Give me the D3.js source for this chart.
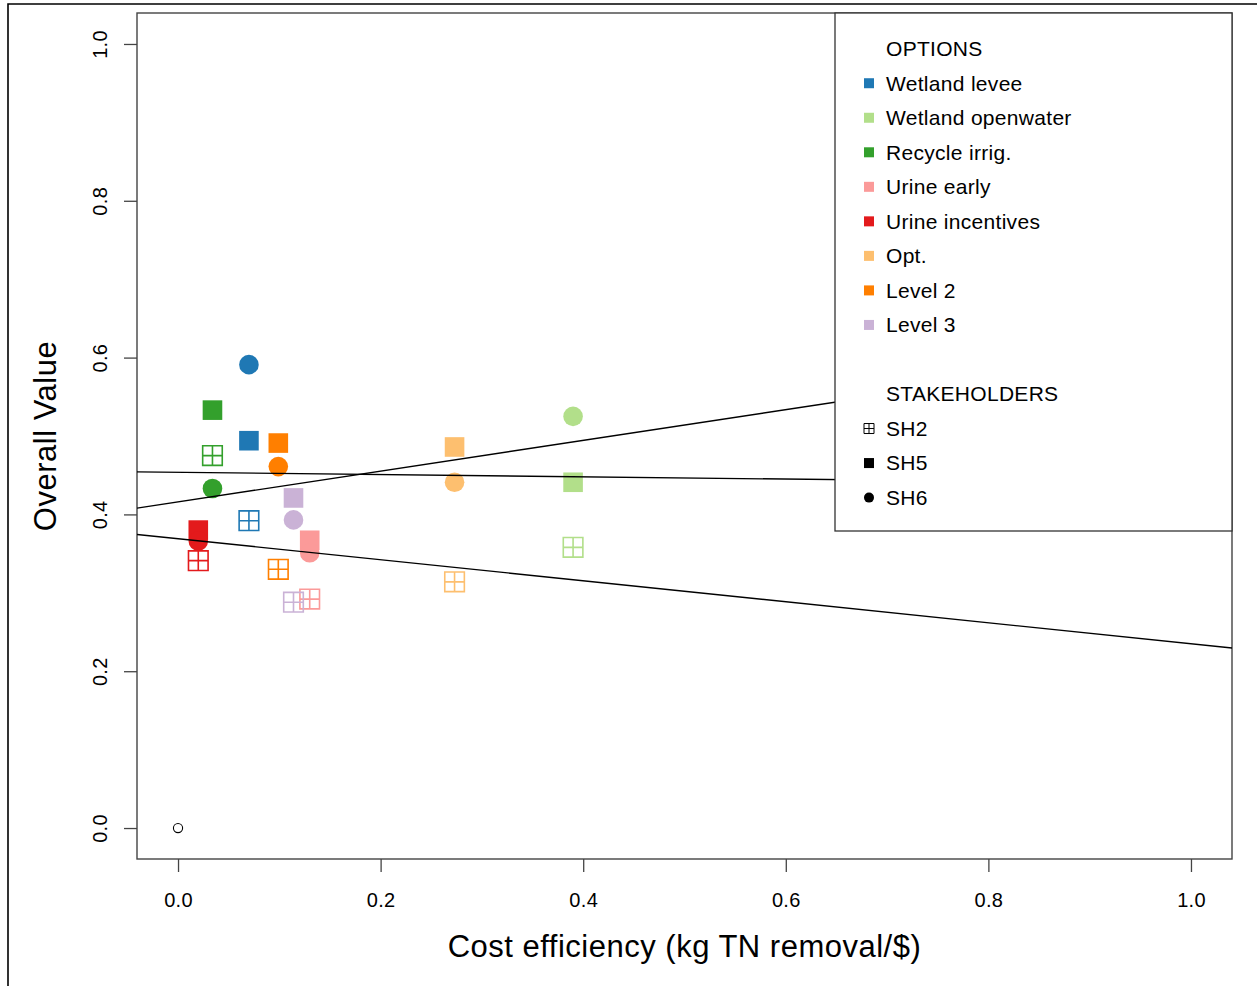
<!DOCTYPE html>
<html>
<head>
<meta charset="utf-8">
<script src="https://cdn.jsdelivr.net/npm/d3@7"></script>
<style>
  body { margin: 0; background: #fff; }
  svg { display: block; font-family: "Liberation Sans", Arial, sans-serif; }
</style>
</head>
<body>
<svg id="myChart" width="1257" height="986"></svg>
<script>
// options (one colour each) and their cost efficiency
const options = ["Wetland levee", "Wetland openwater", "Recycle irrig.", "Urine early",
                 "Urine incentives", "Opt.", "Level 2", "Level 3"];
const optionColors = ["#1f78b4", "#b2df8a", "#33a02c", "#fb9a99",
                      "#e31a1c", "#fdbf6f", "#ff7f00", "#cab2d6"];
const costEfficiency = [0.070, 0.390, 0.034, 0.130, 0.020, 0.273, 0.099, 0.114];

// overall value per stakeholder
const stakeholders = ["SH2", "SH5", "SH6"];
const valueSH2 = [0.392, 0.358, 0.475, 0.292, 0.341, 0.314, 0.330, 0.288];
const valueSH5 = [0.494, 0.441, 0.533, 0.367, 0.380, 0.486, 0.491, 0.421];
const valueSH6 = [0.591, 0.525, 0.433, 0.351, 0.366, 0.441, 0.461, 0.393];

// fitted lines (intercept, slope)
const lineIntercepts = [0.416, 0.4537, 0.369];
const lineSlopes = [0.196, -0.0144, -0.134];

const xTicks = [0, 0.2, 0.4, 0.6, 0.8, 1.0];
const yTicks = [0, 0.2, 0.4, 0.6, 0.8, 1.0];

class ScatterChart {

    constructor() {
        this.render();
    }

    render() {
        let svg = d3.select("#myChart");
        let left = 137, right = 1232, top = 13, bottom = 859;

        let x = d3.scaleLinear().domain([-0.0405, 1.0405]).range([left, right]);
        let y = d3.scaleLinear().domain([-0.0395, 1.0395]).range([bottom, top]);

        // outer frame
        svg.append("path")
            .attr("d", "M8,1000 L8,4 L1300,4")
            .attr("fill", "none")
            .attr("stroke", "#000")
            .attr("stroke-width", 1.6);

        svg.append("clipPath").attr("id", "plotClip")
            .append("rect")
            .attr("x", left).attr("y", top)
            .attr("width", right - left).attr("height", bottom - top);

        // axes
        let xAxis = svg.append("g")
            .attr("transform", "translate(0," + bottom + ")")
            .call(d3.axisBottom(x).tickValues(xTicks).tickFormat(d3.format(".1f")).tickSize(13).tickSizeOuter(0));
        xAxis.select(".domain").remove();
        xAxis.selectAll("line").attr("stroke", "#444").attr("stroke-width", 1.3);
        xAxis.selectAll("text")
            .attr("y", 48).attr("dy", null)
            .attr("fill", "#000")
            .style("font-size", "20px")
            .style("letter-spacing", "0.3px")
            .style("font-family", "'Liberation Sans', Arial, sans-serif");

        let yAxis = svg.append("g")
            .attr("transform", "translate(" + left + ",0)")
            .call(d3.axisLeft(y).tickValues(yTicks).tickFormat(d3.format(".1f")).tickSize(13).tickSizeOuter(0));
        yAxis.select(".domain").remove();
        yAxis.selectAll("line").attr("stroke", "#444").attr("stroke-width", 1.3);
        yAxis.selectAll("text")
            .attr("x", null).attr("dy", null)
            .attr("transform", "translate(-29.7,0) rotate(-90)")
            .attr("text-anchor", "middle")
            .attr("fill", "#000")
            .style("font-size", "20px")
            .style("letter-spacing", "0.3px")
            .style("font-family", "'Liberation Sans', Arial, sans-serif");

        // plot box
        svg.append("rect")
            .attr("x", left).attr("y", top)
            .attr("width", right - left).attr("height", bottom - top)
            .attr("fill", "none")
            .attr("stroke", "#444")
            .attr("stroke-width", 1.4);

        // axis titles
        svg.append("text")
            .attr("x", (left + right) / 2).attr("y", 957)
            .attr("text-anchor", "middle")
            .style("font-size", "31px")
            .style("letter-spacing", "0.5px")
            .text("Cost efficiency (kg TN removal/$)");

        svg.append("text")
            .attr("transform", "translate(55.5," + (top + bottom) / 2 + ") rotate(-90)")
            .attr("text-anchor", "middle")
            .style("font-size", "31px")
            .style("letter-spacing", "0.5px")
            .text("Overall Value");

        let plot = svg.append("g");

        // origin marker
        plot.append("circle")
            .attr("cx", x(0)).attr("cy", y(0)).attr("r", 4.6)
            .attr("fill", "none").attr("stroke", "#000").attr("stroke-width", 1.1);

        let rows = options.map(function(name, i) {
            return {name: name, color: optionColors[i], x: costEfficiency[i],
                    sh2: valueSH2[i], sh5: valueSH5[i], sh6: valueSH6[i]};
        });

        // SH2: open square with cross
        let s = 9.8;
        plot.selectAll(".sh2")
            .data(rows)
            .enter().append("path")
            .attr("class", "sh2")
            .attr("d", function(d) {
                let cx = x(d.x), cy = y(d.sh2);
                return "M" + (cx - s) + "," + (cy - s) + "h" + (2 * s) + "v" + (2 * s) + "h" + (-2 * s) + "Z" +
                       "M" + cx + "," + (cy - s) + "v" + (2 * s) +
                       "M" + (cx - s) + "," + cy + "h" + (2 * s);
            })
            .attr("fill", "none")
            .attr("stroke", function(d) { return d.color; })
            .attr("stroke-width", 1.6);

        // SH5: filled square
        plot.selectAll(".sh5")
            .data(rows)
            .enter().append("rect")
            .attr("class", "sh5")
            .attr("x", function(d) { return x(d.x) - 9.8; })
            .attr("y", function(d) { return y(d.sh5) - 9.8; })
            .attr("width", 19.6).attr("height", 19.6)
            .attr("fill", function(d) { return d.color; });

        // SH6: filled circle
        plot.selectAll(".sh6")
            .data(rows)
            .enter().append("circle")
            .attr("class", "sh6")
            .attr("cx", function(d) { return x(d.x); })
            .attr("cy", function(d) { return y(d.sh6); })
            .attr("r", 9.8)
            .attr("fill", function(d) { return d.color; });

        // fitted lines
        let xd = x.domain();
        svg.append("g")
            .attr("clip-path", "url(#plotClip)")
            .selectAll("line")
            .data(lineIntercepts)
            .enter().append("line")
            .attr("x1", x(xd[0]))
            .attr("x2", x(xd[1]))
            .attr("y1", function(a, i) { return y(a + lineSlopes[i] * xd[0]); })
            .attr("y2", function(a, i) { return y(a + lineSlopes[i] * xd[1]); })
            .attr("stroke", "#000")
            .attr("stroke-width", 1.4);

        // legend
        let lg = svg.append("g");
        lg.append("rect")
            .attr("x", 835).attr("y", top)
            .attr("width", right - 835).attr("height", 531 - top)
            .attr("fill", "#fff")
            .attr("stroke", "#333")
            .attr("stroke-width", 1.3);

        let rowH = 34.53, base = 56, textX = 886, symX = 869;
        let label = function(i, t) {
            lg.append("text")
                .attr("x", textX).attr("y", base + rowH * i)
                .style("font-size", "21px")
                .style("letter-spacing", "0.3px")
                .text(t);
        };
        label(0, "OPTIONS");
        options.forEach(function(name, i) {
            label(i + 1, name);
            lg.append("rect")
                .attr("x", symX - 5).attr("y", base + rowH * (i + 1) - 7.3 - 5)
                .attr("width", 10).attr("height", 10)
                .attr("fill", optionColors[i]);
        });
        label(10, "STAKEHOLDERS");
        stakeholders.forEach(function(name, i) {
            label(11 + i, name);
        });
        let cy2 = base + rowH * 11 - 7.3, cy5 = base + rowH * 12 - 7.3, cy6 = base + rowH * 13 - 7.3;
        lg.append("path")
            .attr("d", "M" + (symX - 5) + "," + (cy2 - 5) + "h10v10h-10Z M" + symX + "," + (cy2 - 5) + "v10 M" + (symX - 5) + "," + cy2 + "h10")
            .attr("fill", "none").attr("stroke", "#000").attr("stroke-width", 1);
        lg.append("rect")
            .attr("x", symX - 5).attr("y", cy5 - 5).attr("width", 10).attr("height", 10)
            .attr("fill", "#000");
        lg.append("circle")
            .attr("cx", symX).attr("cy", cy6).attr("r", 5)
            .attr("fill", "#000");
    }

}

new ScatterChart();
</script>
</body>
</html>
